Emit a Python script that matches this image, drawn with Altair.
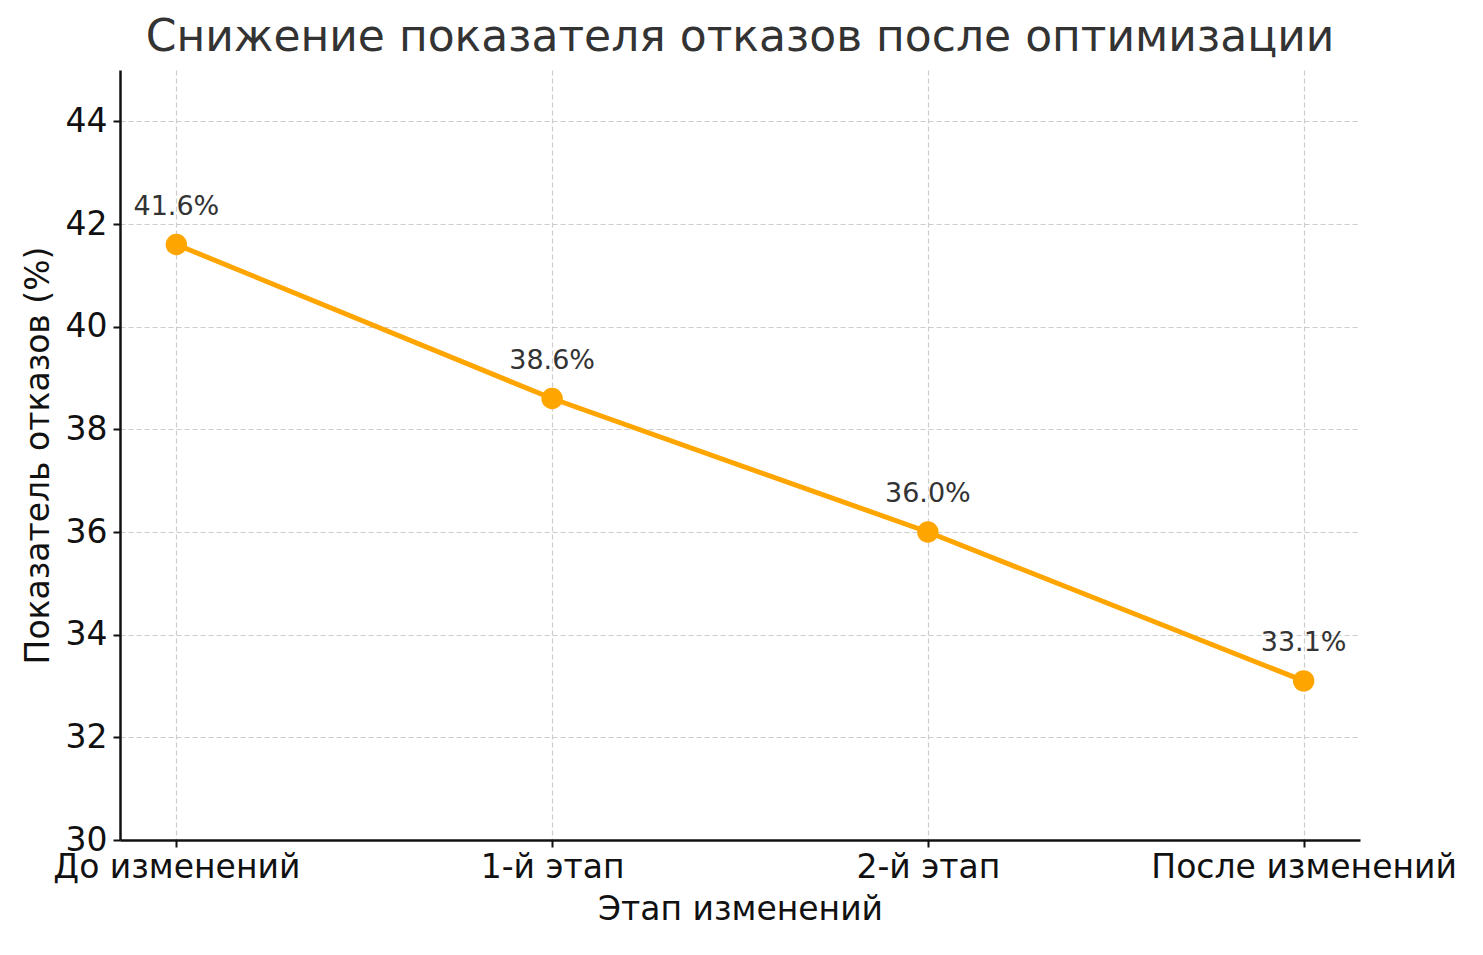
import altair as alt
import pandas as pd

stages = ["До изменений", "1-й этап", "2-й этап", "После изменений"]
bounce_rate = [41.6, 38.6, 36.0, 33.1]
y_ticks = [30, 32, 34, 36, 38, 40, 42, 44]

data = pd.DataFrame({"stage": stages, "rate": bounce_rate})
data["label"] = data["rate"].map(lambda v: f"{v:.1f}%")

x_enc = alt.X("stage:N", sort=stages, title="Этап изменений",
              scale=alt.Scale(type="point", padding=0.15),
              axis=alt.Axis(labelAngle=0, labelFontSize=33, titleFontSize=33,
                            labelLimit=0, labelPadding=4, titlePadding=9,
                            grid=True))
y_enc = alt.Y("rate:Q", title="Показатель отказов (%)",
              scale=alt.Scale(domain=[30, 45], nice=False, zero=False),
              axis=alt.Axis(values=y_ticks, labelFontSize=33, titleFontSize=33,
                            labelPadding=6, titlePadding=10, grid=True))

base = alt.Chart(data).encode(x=x_enc, y=y_enc)

line = base.mark_line(color="#FFA500", strokeWidth=5)
points = base.mark_circle(color="#FFA500", size=460, opacity=1)
labels = base.mark_text(dy=-38, fontSize=27, color="#333333",
                        font="DejaVu Sans").encode(text="label:N")

chart = alt.layer(line, points, labels).properties(
    width=1240,
    height=770,
    autosize=alt.AutoSizeParams(type="none"),
    padding={"left": 112, "top": 62, "right": 115, "bottom": 107},
    background="white",
    title=alt.TitleParams("Снижение показателя отказов после оптимизации",
                          fontSize=44, fontWeight="normal", color="#333333",
                          font="DejaVu Sans", anchor="middle", offset=10),
).configure_view(
    stroke=None
).configure_axis(
    labelFont="DejaVu Sans",
    titleFont="DejaVu Sans",
    labelColor="#111111",
    titleColor="#111111",
    titleFontWeight="normal",
    domainColor="#111111",
    domainWidth=2.5,
    tickColor="#111111",
    tickSize=7,
    tickWidth=2,
    gridColor="#cccccc",
    gridDash=[5, 3],
    gridWidth=1.2,
)

chart.save("out.html", embed_options={"renderer": "svg", "actions": False})
